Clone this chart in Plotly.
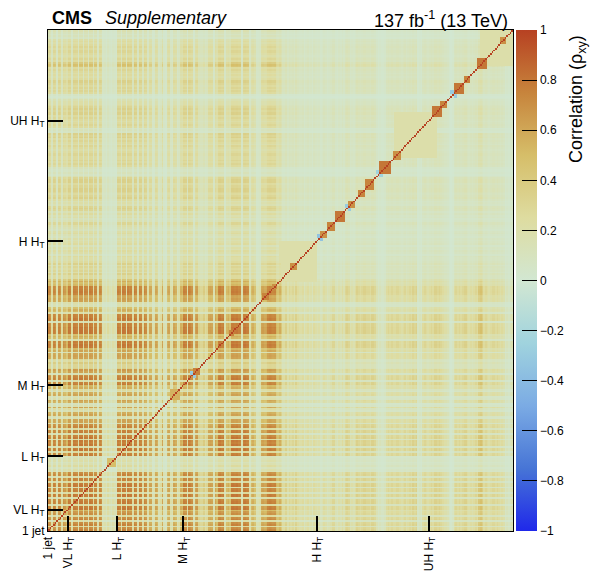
import plotly.graph_objects as go

REGIONS = ["1 jet", "VL H<sub>T</sub>", "L H<sub>T</sub>", "M H<sub>T</sub>", "H H<sub>T</sub>", "UH H<sub>T</sub>"]

# strength of the common component per search bin
load_1jet = [0.85, 0.8, 0.3, 0.85, 0.8, 0.25, 0.85, 0.8, 0.3, 0.8, 0.75, 0.6]
load_vl = [0.9, 0.88, 0.3, 0.9, 0.88, 0.85, 0.25, 0.9, 0.9, 0.3, 0.88, 0.85, 0.25, 0.9, 0.88,
           0.3, 0.85, 0.85, 0.25, 0.85, 0.8,
           0.2, 0.25, 0.15, 0.3, 0.2, 0.15, 0.25, 0.2, 0.15]
load_l = [0.88, 0.85, 0.3, 0.9, 0.88, 0.25, 0.9, 0.85, 0.88, 0.3, 0.9, 0.85, 0.25, 0.88, 0.85,
          0.3, 0.85, 0.8,
          0.25, 0.7, 0.7, 0.2, 0.25, 0.7, 0.65, 0.2, 0.3, 0.7, 0.2, 0.15, 0.65, 0.7, 0.25, 0.2,
          0.7, 0.65, 0.2, 0.3, 0.65, 0.6]
load_m = [0.88, 0.85, 0.25, 0.88, 0.85, 0.8, 0.2, 0.7, 0.75, 0.4, 0.35,
          0.35, 0.45, 0.3, 0.35, 0.7, 0.72, 0.7, 0.2, 0.7, 0.6,
          0.88, 0.9, 0.85, 0.88, 0.25, 0.6, 0.65, 0.55, 0.9, 0.9,
          0.88, 0.9, 0.85, 0.86, 0.2, 0.88, 0.9, 0.86, 0.85, 0.25,
          0.6, 0.65, 0.55, 0.2, 0.2, 0.25, 0.7, 0.72, 0.68, 0.7,
          0.85, 0.88, 0.86, 0.84, 0.85, 0.6, 0.55, 0.65, 0.5, 0.3,
          0.3, 0.4, 0.25, 0.35, 0.3, 0.35, 0.25, 0.4, 0.3, 0.25,
          0.25, 0.3, 0.15, 0.25, 0.3, 0.2, 0.25, 0.15, 0.3, 0.25]
load_h = [0.2, 0.25, 0.15, 0.2, 0.3, 0.25, 0.15, 0.2, 0.25, 0.35,
          0.35, 0.2, 0.15, 0.25, 0.2, 0.3, 0.2, 0.35, 0.4, 0.35,
          0.2, 0.25, 0.2, 0.3, 0.4, 0.35, 0.3, 0.35, 0.4, 0.4,
          0.35, 0.35, 0.3, 0.4, 0.4, 0.35, 0.2, 0.1, 0.15, 0.1,
          0.1, 0.15, 0.3, 0.35, 0.3, 0.35, 0.3, 0.3, 0.35, 0.35,
          0.3, 0.25, 0.3, 0.35, 0.25, 0.3, 0.35, 0.3, 0.4, 0.35,
          0.4, 0.1, 0.15, 0.1, 0.3, 0.35, 0.3, 0.25]
load_uh = [0.3, 0.35, 0.3, 0.4, 0.4, 0.35, 0.4, 0.35, 0.3, 0.25,
           0.25, 0.2, 0.1, 0.05, 0.1, 0.3, 0.35, 0.3, 0.35, 0.3,
           0.35, 0.4, 0.4, 0.3, 0.25, 0.3, 0.25, 0.3, 0.35, 0.3,
           0.5, 0.55, 0.45, 0.3, 0.35, 0.3, 0.25, 0.3, 0.35, 0.35,
           0.3, 0.35, 0.3, 0.25, 0.3, 0.25, 0.1, 0.15, 0.1, 0.15, 0.2]

# (first bin, n bins, rho) squares sitting on the diagonal
diag_blocks = [(36, 5, 0.5), (74, 6, 0.55), (88, 4, 0.75), (110, 3, 0.75), (130, 4, 0.75),
               (136, 3, 0.7), (147, 4, 0.7), (165, 4, 0.7), (169, 5, 0.75), (174, 6, 0.8),
               (182, 4, 0.7), (188, 4, 0.75), (192, 6, 0.75), (201, 7, 0.8), (209, 5, 0.7),
               (233, 6, 0.8), (238, 4, 0.75), (246, 6, 0.8), (252, 4, 0.75), (260, 6, 0.8),
               (274, 4, 0.7)]
# wider faint blocks near the region boundaries
faint_blocks = [(140, 23, 0.2), (210, 26, 0.2), (262, 20, 0.2)]
# anti-correlated neighbours of some diagonal squares
neg_spots = [(88, -0.3), (165, -0.35), (182, -0.3), (201, -0.25), (246, -0.3)]

loads = load_1jet + load_vl + load_l + load_m + load_h + load_uh
n = len(loads)
starts = [0]
for part in [load_1jet, load_vl, load_l, load_m, load_h]:
    starts.append(starts[-1] + len(part))

rho = [[round(a * b, 3) for b in loads] for a in loads]
for s, k, r in faint_blocks:
    for i in range(s, s + k):
        for j in range(s, s + k):
            rho[i][j] = max(rho[i][j], r)
for s, k, r in diag_blocks:
    for i in range(s, s + k):
        for j in range(s, s + k):
            rho[i][j] = r
for s, r in neg_spots:
    for i in (s - 2, s - 1):
        for j in (s, s + 1):
            rho[i][j] = r
            rho[j][i] = r
for i in range(n):
    rho[i][i] = 1.0

light_temperature = [
    [0.0, "rgb(31,40,234)"], [0.125, "rgb(71,117,214)"], [0.25, "rgb(123,171,228)"],
    [0.375, "rgb(160,211,222)"], [0.5, "rgb(210,231,210)"], [0.625, "rgb(222,220,160)"],
    [0.75, "rgb(214,190,105)"], [0.875, "rgb(199,132,60)"], [1.0, "rgb(183,65,34)"],
]

fig = go.Figure(go.Heatmap(
    z=rho, x=list(range(n)), y=list(range(n)),
    zmin=-1, zmax=1, colorscale=light_temperature,
    colorbar=dict(
        x=1.0065, xanchor="left", xpad=0, ypad=0, y=0.5, len=1, lenmode="fraction",
        thickness=21, thicknessmode="pixels", outlinewidth=0,
        ticks="inside", ticklen=15, tickwidth=1, tickcolor="black",
        tickvals=[-1, -0.8, -0.6, -0.4, -0.2, 0, 0.2, 0.4, 0.6, 0.8, 1],
        ticktext=["\u22121", "\u22120.8", "\u22120.6", "\u22120.4", "\u22120.2", "0",
                  "0.2", "0.4", "0.6", "0.8", "1"],
        tickfont=dict(size=12, color="black"),
    ),
))

tickvals = [s - 0.5 for s in starts]
axis = dict(
    range=[-0.5, n - 0.5], tickmode="array", tickvals=tickvals, ticktext=REGIONS,
    ticks="inside", ticklen=15, tickwidth=1.5, tickcolor="black",
    showline=True, linecolor="black", linewidth=1, mirror=True,
    showgrid=False, zeroline=False, tickfont=dict(size=12, color="black"),
)
fig.update_xaxes(**axis, tickangle=-90)
fig.update_yaxes(**axis)

head_y = 1 + 12 / 501
fig.add_annotation(text="<b>CMS</b>", x=(51 - 48) / 465, y=head_y, xref="paper", yref="paper",
                   xanchor="left", yanchor="middle", showarrow=False, borderpad=0,
                   font=dict(size=18, color="black"))
fig.add_annotation(text="<i>Supplementary</i>", x=(104 - 48) / 465, y=head_y, xref="paper", yref="paper",
                   xanchor="left", yanchor="middle", showarrow=False, borderpad=0,
                   font=dict(size=18, color="black"))
fig.add_annotation(text="137 fb<sup>-1</sup> (13 TeV)", x=(509 - 48) / 465, y=1 + 10 / 501,
                   xref="paper", yref="paper", xanchor="right", yanchor="middle", showarrow=False,
                   borderpad=0, font=dict(size=18, color="black"))
fig.add_annotation(text="Correlation (\u03c1<sub>xy</sub>)", x=(578 - 48) / 465, y=(531 - 99) / 501,
                   xref="paper", yref="paper", xanchor="center", yanchor="middle", textangle=-90,
                   showarrow=False, font=dict(size=18, color="black"))

# the page puts the figure 8 px in from the top-left corner
fig.update_layout(
    width=592, height=573,
    margin=dict(l=40, r=87, t=22, b=50, autoexpand=False),
    paper_bgcolor="white", plot_bgcolor="white",
    font=dict(family="Liberation Sans, Arial, sans-serif", color="black"),
)
fig.write_html("out.html")
